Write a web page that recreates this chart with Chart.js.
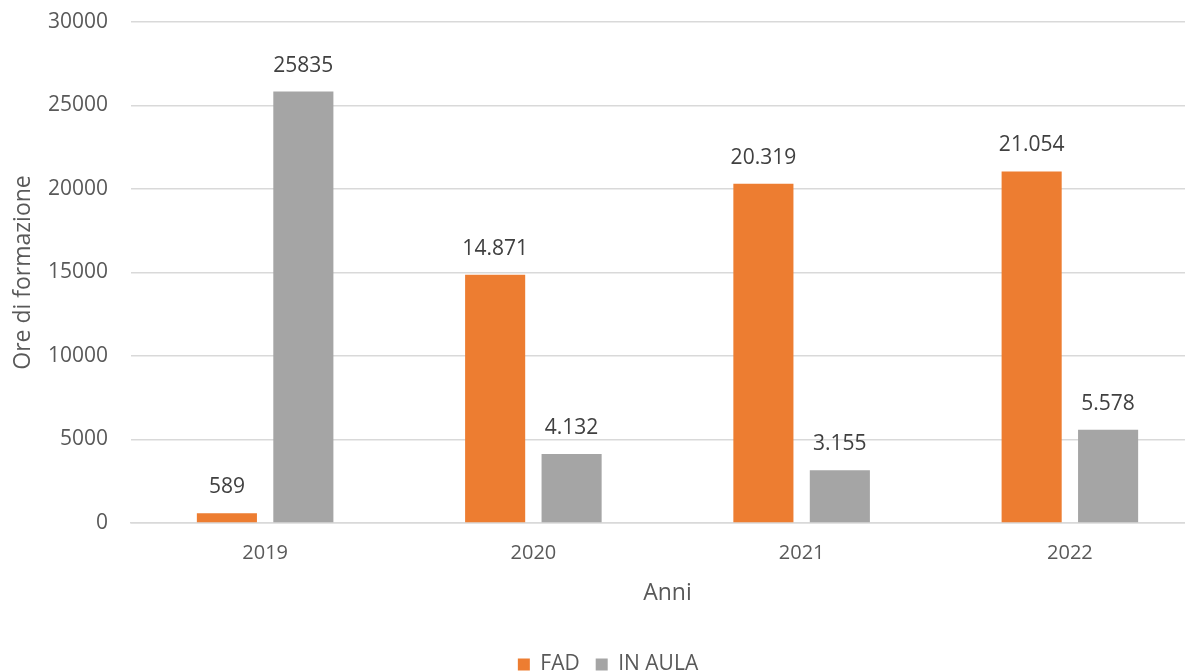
<!DOCTYPE html>
<html>
<head>
<meta charset="utf-8">
<script src="https://cdn.jsdelivr.net/npm/chart.js@4"></script>
<style>
  html, body { margin: 0; padding: 0; background: #fff; overflow: hidden; }
  #wrap { position: relative; width: 1212px; height: 672px; }
</style>
</head>
<body>
<div id="wrap"><canvas id="c"></canvas></div>
<script>
const categories = ['2019', '2020', '2021', '2022'];
const fadValues = [589, 14871, 20319, 21054];
const aulaValues = [25835, 4132, 3155, 5578];
const fadLabels = ['589', '14.871', '20.319', '21.054'];
const aulaLabels = ['25835', '4.132', '3.155', '5.578'];
const seriesNames = ['FAD', 'IN AULA'];
const yTicks = [0, 5000, 10000, 15000, 20000, 25000, 30000];

const FONT = "'Open Sans', 'Liberation Sans', sans-serif";

const valueLabels = {
  id: 'valueLabels',
  afterDatasetsDraw(chart) {
    const ctx = chart.ctx;
    const texts = [fadLabels, aulaLabels];
    ctx.save();
    ctx.font = '21px ' + FONT;
    ctx.fillStyle = '#404040';
    ctx.textAlign = 'center';
    ctx.textBaseline = 'middle';
    chart.data.datasets.forEach((ds, i) => {
      const meta = chart.getDatasetMeta(i);
      meta.data.forEach((bar, j) => {
        ctx.fillText(texts[i][j], bar.x, bar.y - 26);
      });
    });
    ctx.restore();
  }
};

new Chart(document.getElementById('c'), {
  type: 'bar',
  data: {
    labels: categories,
    datasets: [
      { label: seriesNames[0], data: fadValues, backgroundColor: '#ED7D31' },
      { label: seriesNames[1], data: aulaValues, backgroundColor: '#A5A5A5' }
    ]
  },
  options: {
    responsive: true,
    maintainAspectRatio: false,
    animation: false,
    datasets: { bar: { categoryPercentage: 0.57, barPercentage: 0.786 } },
    layout: { padding: { top: 22, right: 8, bottom: -13, left: 12 } },
    plugins: {
      legend: {
        position: 'bottom',
        labels: {
          boxWidth: 12, boxHeight: 12, padding: 16,
          color: '#595959',
          font: { family: FONT, size: 21 }
        }
      },
      tooltip: { enabled: false }
    },
    scales: {
      x: {
        grid: { display: false, drawTicks: false },
        border: { display: true, color: '#D9D9D9', width: 1.5 },
        ticks: { color: '#595959', padding: 18, font: { family: FONT, size: 20 } },
        title: { display: true, text: 'Anni', color: '#595959', padding: { top: 10, bottom: 31 }, font: { family: FONT, size: 23 } },
        afterFit(s) { s.height = 115; s.paddingLeft = 0; s.paddingRight = 0; }
      },
      y: {
        min: 0, max: 30000,
        afterBuildTicks(s) { s.ticks = yTicks.map(v => ({ value: v })); },
        grid: { color: '#D9D9D9', lineWidth: 1.5, drawTicks: false },
        border: { display: false },
        ticks: { color: '#595959', padding: 23, font: { family: FONT, size: 21 }, callback: v => String(v) },
        title: { display: true, text: 'Ore di formazione', color: '#595959', padding: { top: -2, bottom: 0 }, font: { family: FONT, size: 23 } },
        afterFit(s) { s.width = 119; s.paddingTop = 0; s.paddingBottom = 0; }
      }
    }
  },
  plugins: [valueLabels]
});
</script>
</body>
</html>
